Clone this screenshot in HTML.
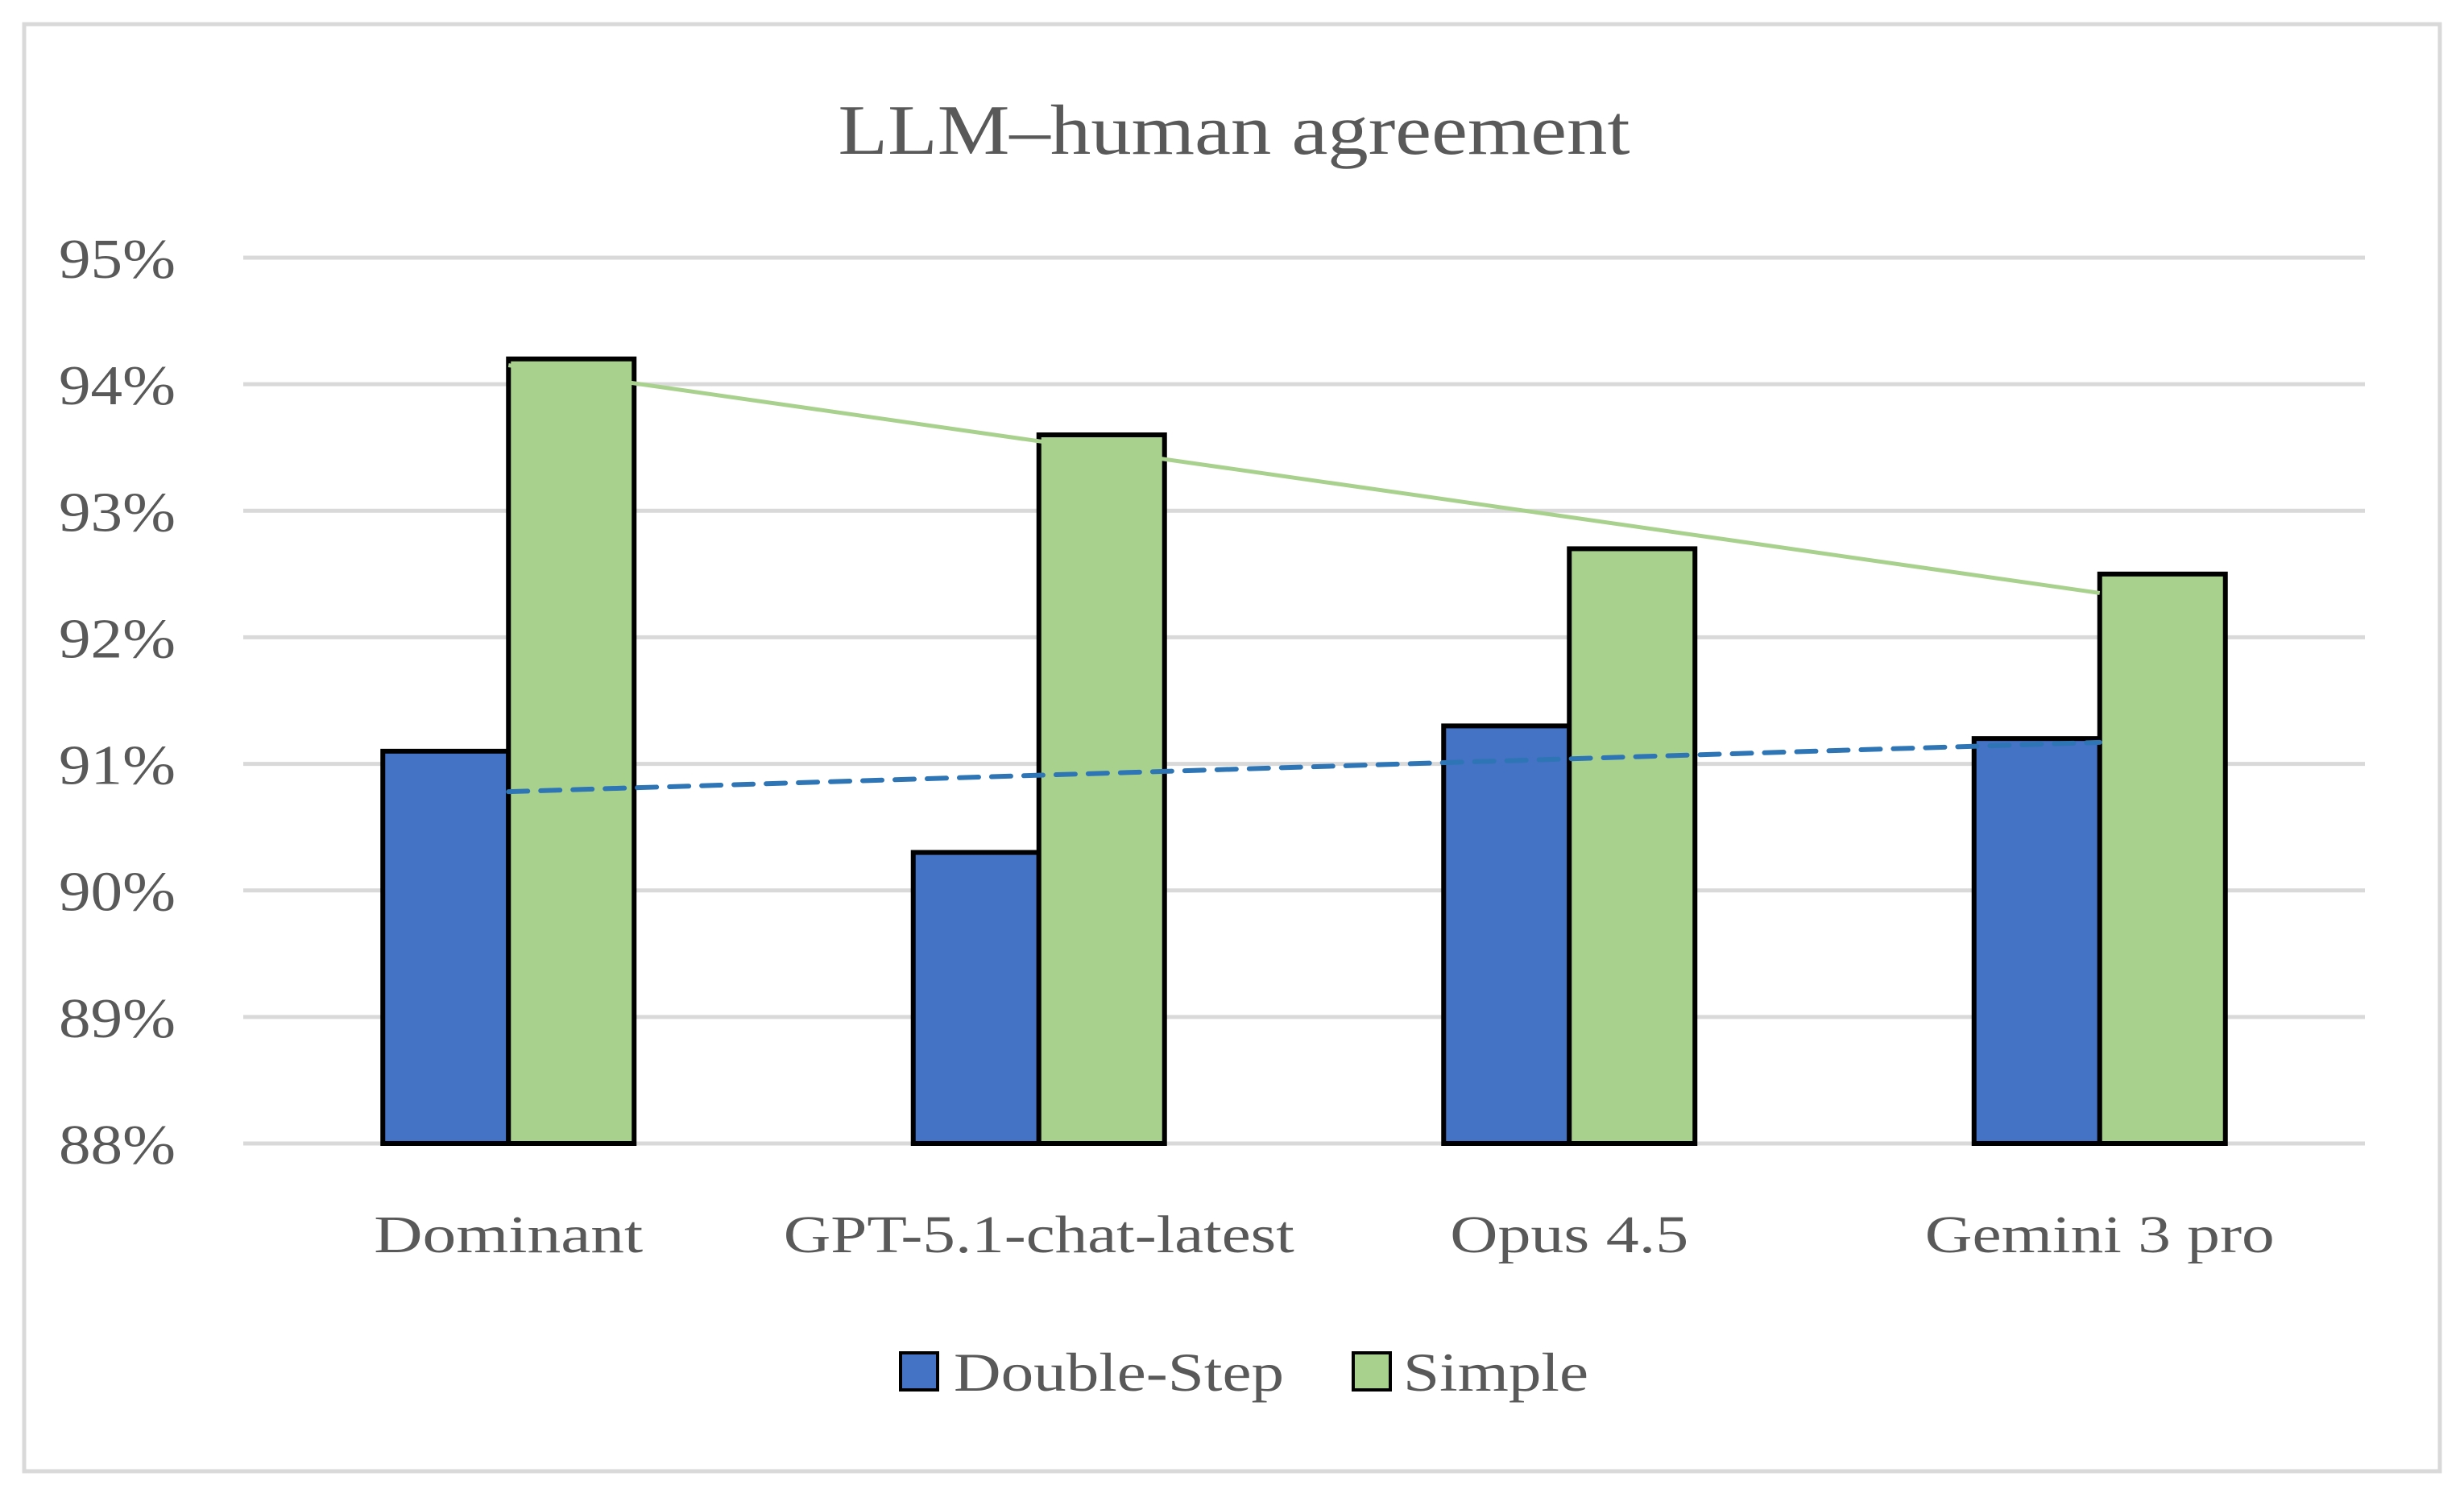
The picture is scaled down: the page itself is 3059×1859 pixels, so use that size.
<!DOCTYPE html>
<html><head><meta charset="utf-8"><style>html,body{margin:0;padding:0;background:#fff}svg{display:block}</style></head>
<body>
<svg id="chart" width="3059" height="1859" viewBox="0 0 3059 1859" xmlns="http://www.w3.org/2000/svg" font-family="'Book Antiqua','Palatino Linotype','Liberation Serif',serif">
<rect x="30" y="30" width="2999" height="1797" fill="#fff" stroke="#d9d9d9" stroke-width="5"/>
<text x="1532" y="191" text-anchor="middle" font-size="88" fill="#595959" textLength="983" lengthAdjust="spacingAndGlyphs">LLM–human agreement</text>
<g id="grid"></g><g id="bars"></g><g id="trends"></g><g id="labels"></g>
<g>
<rect x="1118" y="1680" width="46" height="46" fill="#4472c4" stroke="#000" stroke-width="4"/>
<text x="1184" y="1727" font-size="68" fill="#595959" textLength="410" lengthAdjust="spacingAndGlyphs">Double-Step</text>
<rect x="1680" y="1680" width="46" height="46" fill="#a9d18e" stroke="#000" stroke-width="4"/>
<text x="1742" y="1727" font-size="68" fill="#595959" textLength="230" lengthAdjust="spacingAndGlyphs">Simple</text>
</g>
</svg>
<script>
const categories = ["Dominant","GPT-5.1-chat-latest","Opus 4.5","Gemini 3 pro"];
const doubleStep = [91.1, 90.3, 91.3, 91.2];
const simple = [94.2, 93.6, 92.7, 92.5];
const yTicks = [88,89,90,91,92,93,94,95];
const labelWidths = [334, 634, 296, 434];

const NS = "http://www.w3.org/2000/svg";
const plotL = 302, plotR = 2936, yMin = 88, yMax = 95, yTop = 320, yBot = 1420;
const band = (plotR - plotL) / categories.length;
const barW = 156;
function y(v){ return yBot - (v - yMin) / (yMax - yMin) * (yBot - yTop); }
function cx(i){ return plotL + band * (i + 0.5); }
function mk(tag, attrs, parent){ const e = document.createElementNS(NS, tag); for (const k in attrs) e.setAttribute(k, attrs[k]); parent.appendChild(e); return e; }

const grid = document.getElementById('grid');
yTicks.forEach(t => {
  const l = mk('line', {x1: plotL, x2: plotR, y1: y(t), y2: y(t), stroke: '#d9d9d9', 'stroke-width': 5}, grid);
  
  
  const tx = mk('text', {x: 218, y: y(t) + 25, 'text-anchor': 'end', 'font-size': 70, fill: '#595959', textLength: 145, lengthAdjust: 'spacingAndGlyphs'}, grid);
  tx.textContent = t + '%';
  
  
});

const bars = document.getElementById('bars');
categories.forEach((c, i) => {
  const b1 = mk('rect', {x: cx(i) - barW, y: y(doubleStep[i]), width: barW, height: y(yMin) - y(doubleStep[i]), fill: '#4472c4', stroke: '#000', 'stroke-width': 6}, bars);
  
  
  const b2 = mk('rect', {x: cx(i), y: y(simple[i]), width: barW, height: y(yMin) - y(simple[i]), fill: '#a9d18e', stroke: '#000', 'stroke-width': 6}, bars);
  
  
  const lb = mk('text', {x: cx(i), y: 1555, 'text-anchor': 'middle', 'font-size': 66, fill: '#595959', textLength: labelWidths[i], lengthAdjust: 'spacingAndGlyphs'}, document.getElementById('labels'));
  lb.textContent = c;
  
  
});

function fit(vals){
  const n = vals.length, mx = (n - 1) / 2, my = vals.reduce((a, b) => a + b, 0) / n;
  let num = 0, den = 0;
  vals.forEach((v, i) => { num += (i - mx) * (v - my); den += (i - mx) * (i - mx); });
  const s = num / den;
  return [my - s * mx, my + s * (n - 1 - mx)];
}
const trends = document.getElementById('trends');
const ts = fit(simple), td = fit(doubleStep), last = categories.length - 1;
const l1 = mk('line', {x1: cx(0), y1: y(ts[0]), x2: cx(last), y2: y(ts[1]), stroke: '#a9d18e', 'stroke-width': 5}, trends);


const l2 = mk('line', {x1: cx(0), y1: y(td[0]), x2: cx(last), y2: y(td[1]), stroke: '#2e75b6', 'stroke-width': 6, 'stroke-dasharray': '24 16', 'stroke-linecap': 'round'}, trends);


</script>
</body></html>
